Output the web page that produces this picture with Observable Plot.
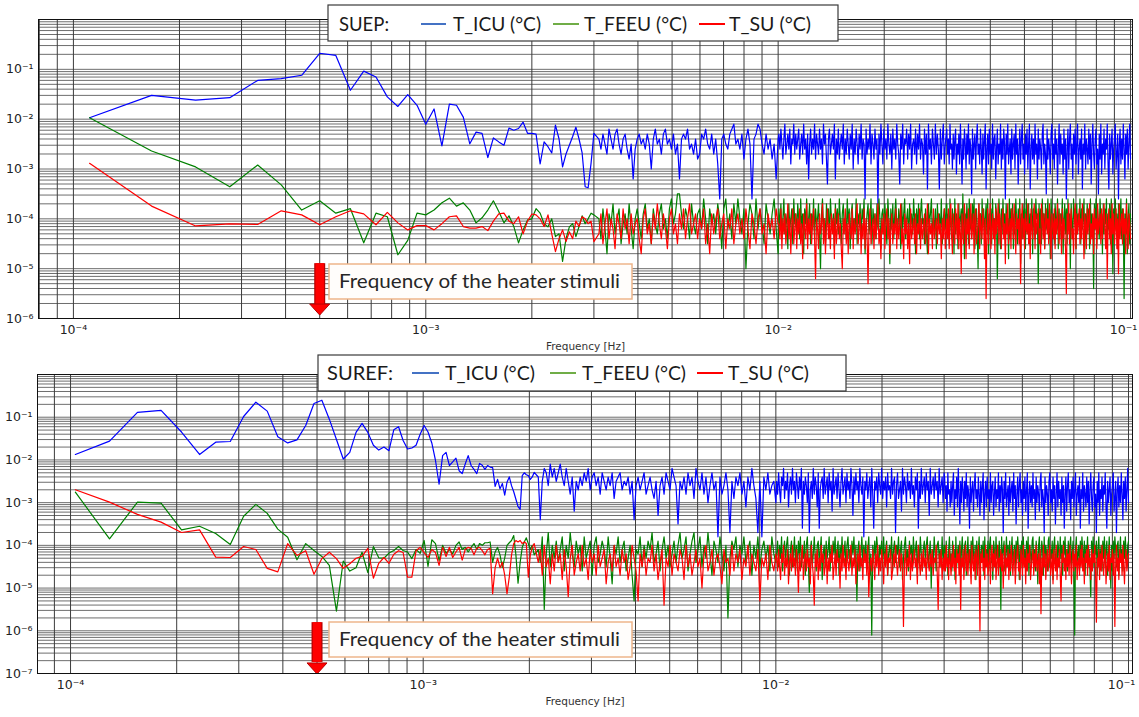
<!DOCTYPE html>
<html><head><meta charset="utf-8">
<script src="https://cdn.jsdelivr.net/npm/d3@7"></script>
<script src="https://cdn.jsdelivr.net/npm/@observablehq/plot@0.6"></script>
<style>
html,body{margin:0;padding:0;background:#fff;}
#wrap{position:relative;width:1139px;height:717px;overflow:hidden;background:#fff;}
#top,#bottom{position:absolute;left:0;}
#top{top:0;} #bottom{top:355px;}
#overlay{position:absolute;left:0;top:0;pointer-events:none;}
</style></head>
<body><div id="wrap"><div id="top"></div><div id="bottom"></div><svg id="overlay" width="1139" height="717"></svg></div>
<script>
// ---------- labels ----------
const seriesNames = ["T_ICU (°C)", "T_FEEU (°C)", "T_SU (°C)"];
const panelNames = ["SUEP:", "SUREF:"];
const xTitle = "Frequency [Hz]";
const annotationText = "Frequency of the heater stimuli";
const xTickValues = [1e-4, 1e-3, 1e-2];
const xLastTick = [1e-1];
const suepYTicks = [1e-1, 1e-2, 1e-3, 1e-4, 1e-5, 1e-6];
const surefYTicks = [1e-1, 1e-2, 1e-3, 1e-4, 1e-5, 1e-6, 1e-7];
const heaterStimulusHz = 5e-4;
// frequency segments of the dense part: [mid start] .. 0.01 | 0.01 .. 0.03 | 0.03 .. 0.1 Hz
const midEndHz = 0.01, bandStartHz = 0.01005, bandEndHz = 0.03, highStartHz = 0.0301, endHz = 0.1;

// ---------- SUEP (top): FFT bins n = 2..54, then dense segments (values as 10*log10) ----------
const suepBinHz = 1 / 18000;
const suepFirstBin = 2;
const suepMidStartHz = 3.1e-3;
const suepIcuLow = [1.07e-2,3.0e-2,2.4e-2,2.7e-2,6.0e-2,6.5e-2,7.6e-2,0.21,0.19,3.8e-2,9.2e-2,7.0e-2,2.8e-2,1.8e-2,3.1e-2,1.9e-2,
 7.9e-3,1.6e-2,2.9e-3,2.0e-2,1.9e-2,1.1e-2,3.2e-3,5.5e-3,5.2e-3,1.7e-3,4.2e-3,3.5e-3,3.0e-3,6.6e-3,6.0e-3,6.5e-3,8.7e-3,5.2e-3,5.2e-3,5.0e-3,1.26e-3,3.5e-3,2.8e-3,2.1e-3,7.6e-3,4.0e-3,1.1e-3,2.0e-3,3.0e-3,4.5e-3,6.9e-3,4.0e-3,2.1e-3,4.4e-4,4.2e-4,1.3e-3,5.2e-3];
const suepFeeuLow = [1.07e-2,2.3e-3,1.1e-3,4.4e-4,1.2e-3,4.8e-4,1.5e-4,2.3e-4,1.3e-4,1.6e-4,3.3e-5,1.3e-4,1.1e-4,1.9e-5,3.7e-5,1.3e-4,
 1.2e-4,1.5e-4,2.1e-4,2.6e-4,1.8e-4,2.1e-4,1.5e-4,8.3e-5,1.05e-4,1.5e-4,2.3e-4,1.4e-4,8.3e-5,1.15e-4,7e-5,3.3e-5,6e-5,9.5e-5,1.0e-4,1.6e-4,1.3e-4,8e-5,6.9e-5,1e-4,4.4e-5,5e-5,1.4e-5,4e-5,6.9e-5,8e-5,4.4e-5,7e-5,1.15e-4,8e-5,1.0e-4,1.3e-4,1.2e-4];
const suepSuLow = [1.3e-3,1.8e-4,7.2e-5,7.9e-5,7.7e-5,1.45e-4,1.2e-4,7.6e-5,1.1e-4,1.45e-4,1.26e-4,7.6e-5,1.35e-4,8.3e-5,6e-5,7.3e-5,
 7.3e-5,6e-5,8e-5,1.1e-4,1.15e-4,7e-5,6.5e-5,6.5e-5,7e-5,5.8e-5,9e-5,1.26e-4,1.3e-4,9e-5,8e-5,1.1e-4,5e-5,9e-5,1.25e-4,1.2e-4,1.0e-4,7e-5,1.2e-4,5e-5,2.2e-5,4e-5,6e-5,3.5e-5,5.5e-5,4e-5,9e-5,7e-5,1.1e-4,1e-4,8e-5,9e-5,3.5e-5];
const suepIcuMid = [
-24,-26,-23,-25,-27,-22,-24,-26,-23,-22, -25,-27,-24,-23,-26,-28,-25,-32,-26,-24,
-23,-25,-24,-26,-23,-25,-30,-24,-22,-25, -24,-27,-23,-22,-25,-24,-26,-23,-27,-25,
-32,-24,-23,-24,-22,-26,-25,-27,-24,-28, -27,-23,-24,-22,-25,-26,-23,-27,-24,-29,
-36,-24,-23,-25,-26,-23,-22,-21,-25,-24, -26,-23,-28,-24,-22,-25,-36,-24,-23,-21,
-22,-25,-27,-23,-26,-24,-28,-25,-32,-24];
const suepFeeuMid = [
-40,-44,-38,-42,-47,-39,-41,-37,-43,-40, -38,-45,-41,-39,-43,-37,-42,-46,-40,-38,
-41,-44,-39,-37,-42,-40,-45,-38,-41,-43, -39,-37,-42,-40,-44,-38,-36,-41,-39,-35,
-35,-39,-42,-38,-40,-44,-37,-41,-43,-39, -38,-42,-36,-40,-45,-38,-41,-39,-43,-37,
-40,-46,-38,-36,-42,-39,-44,-37,-41,-36, -40,-43,-38,-50,-41,-37,-39,-44,-36,-42,
-38,-41,-45,-37,-40,-43,-39,-36,-42,-47];
const suepSuMid = [
-43,-39,-45,-41,-38,-44,-40,-42,-46,-39, -41,-44,-38,-42,-40,-45,-39,-43,-41,-40,
-44,-47,-40,-38,-43,-41,-45,-39,-42,-37, -41,-44,-39,-42,-46,-40,-38,-43,-41,-45,
-39,-42,-38,-44,-40,-37,-43,-41,-39,-44, -40,-42,-38,-45,-41,-47,-39,-43,-40,-38,
-44,-41,-39,-46,-40,-42,-38,-45,-41,-39, -43,-40,-44,-38,-42,-46,-39,-41,-45,-40,
-38,-43,-41,-47,-39,-42,-40,-44,-38,-41];
const suepIcuBand = [
-23,-26,-22,-25,-28,-24,-21,-27,-25,-23, -26,-22,-29,-24,-25,-21,-27,-23,-26,-24,
-22,-28,-25,-23,-27,-21,-26,-24,-29,-23, -32,-25,-22,-27,-24,-26,-21,-28,-23,-25,
-27,-22,-26,-24,-29,-21,-25,-23,-28,-33, -24,-22,-27,-25,-23,-26,-21,-32,-24,-27,
-22,-28,-25,-23,-26,-21,-29,-24,-27,-22, -25,-28,-23,-26,-21,-30,-24,-27,-22,-25,
-29,-23,-26,-21,-28,-24,-25,-36,-22,-27, -24,-26,-21,-29,-23,-25,-28,-22,-26,-24,
-37,-23,-27,-21,-25,-29,-22,-26,-24,-28, -21,-25,-27,-23,-30,-22,-26,-24,-28,-21,
-25,-27,-33,-23,-26,-21,-29,-24,-25,-22, -28,-23,-26,-21,-30,-25,-24,-27,-22,-29,
-23,-26,-21,-28,-24,-25,-31,-22,-27,-23, -34,-21,-26,-24,-29,-22,-25,-28,-21,-27,
-23,-26,-34,-22,-28,-24,-21,-29,-25,-23];
const suepFeeuBand = [
-38,-42,-37,-44,-40,-36,-43,-39,-41,-46, -37,-42,-40,-38,-45,-36,-41,-39,-43,-37,
-40,-44,-36,-42,-39,-47,-38,-41,-36,-43, -40,-37,-45,-39,-42,-36,-44,-38,-41,-40,
-37,-43,-50,-39,-36,-42,-40,-45,-37,-41, -38,-44,-36,-40,-42,-39,-46,-37,-41,-38,
-43,-36,-40,-45,-39,-37,-42,-40,-44,-36, -41,-38,-46,-39,-37,-43,-40,-42,-36,-45,
-39,-41,-37,-44,-38,-40,-36,-47,-42,-39, -37,-43,-40,-36,-45,-38,-41,-39,-44,-37,
-42,-36,-40,-46,-39,-38,-43,-37,-41,-45, -36,-40,-49,-38,-42,-37,-44,-39,-36,-41,
-43,-38,-40,-46,-37,-42,-39,-36,-44,-40, -38,-45,-37,-41,-39,-43,-36,-40,-47,-38,
-42,-37,-44,-39,-36,-41,-40,-45,-38,-43, -47,-37,-41,-39,-36,-44,-40,-42,-38,-46,
-37,-41,-39,-43,-36,-45,-40,-38,-42,-37];
const suepSuBand = [
-41,-44,-38,-46,-40,-43,-39,-45,-42,-37, -44,-40,-47,-41,-38,-45,-42,-39,-46,-40,
-43,-38,-45,-41,-48,-39,-42,-44,-37,-46, -40,-43,-39,-45,-41,-38,-44,-52,-40,-42,
-46,-39,-43,-41,-37,-45,-40,-47,-42,-38, -44,-41,-46,-39,-43,-40,-48,-38,-45,-42,
-39,-44,-41,-46,-50,-40,-43,-38,-45,-41, -47,-39,-42,-44,-38,-46,-40,-43,-41,-37,
-45,-42,-39,-47,-41,-44,-38,-46,-40,-43, -53,-41,-38,-45,-42,-40,-46,-39,-44,-41,
-37,-45,-42,-48,-40,-43,-39,-46,-41,-38, -44,-40,-47,-42,-39,-45,-41,-43,-38,-46,
-40,-44,-41,-37,-45,-42,-48,-39,-43,-40, -46,-41,-49,-38,-44,-42,-40,-45,-39,-47,
-41,-43,-38,-46,-40,-44,-42,-39,-45,-41, -37,-47,-40,-43,-41,-46,-38,-44,-42,-40,
-45,-39,-43,-41,-48,-40,-44,-38,-46,-42];
const suepIcuHigh = [
-22,-27,-24,-29,-21,-26,-25,-30,-23,-28, -24,-22,-31,-25,-27,-23,-29,-21,-26,-33,
-24,-28,-22,-25,-30,-23,-27,-21,-29,-24, -26,-35,-22,-28,-25,-23,-30,-24,-21,-27,
-25,-29,-22,-26,-31,-23,-28,-24,-21,-34, -26,-23,-29,-22,-27,-25,-30,-21,-28,-24,
-23,-32,-26,-22,-29,-25,-27,-21,-30,-24, -28,-22,-25,-36,-23,-27,-21,-29,-26,-24,
-31,-22,-28,-25,-23,-30,-21,-27,-24,-33, -26,-22,-29,-24,-21,-28,-25,-31,-23,-27,
-22,-30,-25,-21,-34,-26,-23,-28,-24,-29, -21,-27,-25,-32,-22,-28,-24,-26,-30,-23,
-21,-29,-25,-27,-35,-22,-28,-24,-26,-31, -23,-21,-28,-25,-30,-22,-27,-24,-33,-26,
-21,-29,-23,-27,-25,-31,-22,-28,-24,-36, -26,-22,-30,-24,-21,-28,-25,-32,-23,-27,
-22,-29,-25,-21,-31,-26,-24,-28,-22,-34, -25,-27,-21,-30,-24,-26,-29,-22,-28,-23,
-33,-25,-21,-27,-30,-24,-22,-29,-26,-35, -23,-28,-21,-31,-25,-27,-22,-30,-24,-26,
-21,-29,-34,-23,-28,-25,-22,-31,-26,-24, -21,-30,-27,-23,-36,-25,-22,-29,-24,-28,
-21,-26,-32,-23,-27,-22,-30,-25,-21,-28];
const suepFeeuHigh = [
-37,-42,-39,-45,-36,-41,-44,-38,-40,-47, -36,-43,-39,-41,-46,-37,-42,-40,-38,-44,
-35,-41,-48,-39,-43,-37,-40,-45,-36,-42, -39,-44,-37,-41,-36,-46,-40,-38,-43,-50,
-37,-42,-39,-45,-36,-41,-38,-44,-40,-37, -43,-36,-47,-39,-42,-38,-45,-36,-41,-40,
-44,-37,-39,-52,-42,-36,-40,-46,-38,-43, -36,-41,-39,-45,-37,-42,-40,-48,-36,-44,
-38,-41,-37,-46,-39,-43,-36,-40,-45,-38, -42,-36,-49,-39,-44,-37,-41,-38,-46,-36,
-40,-43,-37,-45,-39,-42,-36,-47,-38,-41, -44,-36,-40,-39,-53,-37,-43,-38,-45,-36,
-41,-39,-46,-37,-42,-40,-36,-44,-38,-48, -36,-41,-43,-39,-45,-37,-40,-42,-36,-46,
-38,-44,-39,-41,-36,-47,-40,-37,-43,-38, -45,-36,-42,-39,-50,-37,-41,-44,-36,-40,
-38,-46,-37,-43,-39,-41,-36,-45,-38,-42, -40,-36,-47,-39,-44,-37,-41,-38,-46,-36,
-43,-39,-40,-54,-37,-42,-36,-45,-38,-41, -44,-36,-40,-39,-47,-37,-43,-38,-41,-36,
-46,-39,-42,-37,-45,-36,-40,-51,-38,-43, -36,-41,-39,-46,-37,-42,-40,-36,-44,-38,
-41,-56,-39,-43,-36,-47,-40,-37,-45,-39];
const suepSuHigh = [
-40,-44,-38,-46,-41,-37,-43,-47,-39,-42, -45,-38,-41,-44,-37,-46,-40,-43,-51,-39,
-42,-45,-37,-41,-48,-40,-43,-38,-46,-41, -37,-44,-42,-39,-47,-40,-38,-45,-43,-41,
-37,-46,-39,-42,-44,-38,-41,-48,-40,-56, -43,-38,-45,-41,-37,-46,-42,-39,-44,-40,
-47,-38,-43,-41,-37,-45,-39,-42,-46,-40, -38,-44,-41,-49,-39,-43,-37,-45,-42,-40,
-46,-38,-41,-44,-37,-43,-47,-39,-42,-40, -45,-38,-53,-41,-37,-44,-40,-46,-39,-42,
-43,-37,-45,-41,-48,-38,-42,-44,-40,-37, -46,-39,-43,-41,-38,-45,-42,-47,-37,-40,
-44,-39,-46,-41,-38,-43,-40,-45,-37,-42, -48,-39,-41,-44,-38,-46,-40,-43,-37,-42,
-45,-39,-41,-47,-38,-44,-40,-42,-46,-55, -39,-43,-37,-45,-41,-38,-44,-42,-47,-40,
-37,-46,-39,-43,-41,-38,-45,-40,-44,-37, -42,-48,-39,-41,-46,-38,-43,-40,-37,-45,
-41,-44,-39,-47,-38,-42,-40,-46,-37,-43, -41,-39,-45,-38,-44,-40,-37,-42,-46,-39,
-52,-41,-38,-44,-40,-47,-37,-43,-39,-45, -42,-38,-46,-40,-51,-37,-44,-41,-39,-45,
-38,-43,-40,-47,-37,-42,-46,-39,-41,-44];

// ---------- SUREF (bottom): FFT bins n = 4..80, then dense segments ----------
const surefBinHz = 2.58e-5;
const surefFirstBin = 4;
const surefMidStartHz = 2.12e-3;
const surefIcuLow = [1.34e-2,2.75e-2,0.13,0.144,4.5e-2,1.34e-2,2.6e-2,2.7e-2,0.104,0.225,0.139,3.5e-2,2.5e-2,2.95e-2,6.4e-2,0.21,0.25,
 9e-2,3e-2,1.05e-2,1.5e-2,4.4e-2,7.2e-2,4.4e-2,2.2e-2,1.7e-2,2e-2,1.65e-2,5.1e-2,6e-2,2.85e-2,1.8e-2,1.9e-2,2.2e-2,4e-2,6.4e-2,4.5e-2,
 2.5e-2,9.7e-3,2.7e-3,1.26e-2,1.5e-2,7.4e-3,9e-3,1.1e-2,5.6e-3,4.8e-3,8e-3,1.26e-2,7.4e-3,6e-3,4.8e-3,8.3e-3,7.5e-3,6e-3,7.4e-3,6.8e-3,
 6.6e-3,2.4e-3,3.5e-3,2.1e-3,2.8e-3,1.5e-3,3e-3,4e-3,2.5e-3,1.8e-3,1.2e-3,8.1e-4,7e-4,4.3e-3,5e-3,4.5e-3,4.3e-3,3.5e-3,4e-3,5.1e-3];
const surefFeeuLow = [1.76e-3,1.42e-4,1.03e-3,9.7e-4,2.3e-4,2.8e-4,1.9e-4,1.05e-4,4.8e-4,9.1e-4,5.6e-4,2.4e-4,1.55e-4,4.6e-5,1.1e-4,7.6e-5,5.5e-5,
 3.4e-5,2.9e-6,4.3e-5,2.5e-5,3e-5,6.9e-5,2.3e-5,9.4e-5,5.1e-5,5e-5,6.6e-5,7.6e-5,9.4e-5,7.6e-5,7e-5,4.9e-5,8e-5,6.5e-5,1.3e-4,3.2e-5,
 1.35e-4,1.1e-4,4.4e-5,1.0e-4,6.5e-5,8e-5,6.3e-5,1.0e-4,1.2e-4,8e-5,9e-5,7e-5,9e-5,1.1e-4,8e-5,1.1e-4,1.0e-4,1.15e-4,1.15e-4,1.2e-4,
 4e-5,7e-5,9e-5,6e-5,3e-5,5e-5,1.0e-4,1.15e-4,1.3e-4,1.7e-4,6e-5,1.3e-5,4e-5,9e-5,1.2e-4,1.5e-4,1.1e-4,8e-5,1.0e-4,6e-5];
const surefSuLow = [2e-3,1.03e-3,5.3e-4,3.5e-4,2e-4,2.3e-4,5.3e-5,5.2e-5,9.4e-5,8e-5,2.9e-5,2.4e-5,1.1e-4,5.8e-5,7.5e-5,2.1e-5,4.9e-5,
 6.9e-5,4.9e-5,2.9e-5,3.7e-5,5e-5,5.5e-5,8.5e-5,1.7e-5,3.8e-5,5.2e-5,3.8e-5,6.2e-5,7.5e-5,6.8e-5,1.8e-5,1.8e-5,7.5e-5,9e-5,6.8e-5,5.2e-5,
 8e-5,6.8e-5,3.4e-5,9e-5,5.5e-5,9e-5,5.2e-5,7e-5,9e-5,4.5e-5,8e-5,9e-5,8.5e-5,6e-5,8.5e-5,9e-5,7.5e-5,6e-5,8e-5,8.5e-5,
 7.4e-6,3e-5,5e-5,3e-5,4e-5,2e-5,7.4e-6,1.8e-5,6e-5,1.1e-4,1.3e-4,1.2e-4,1.3e-4,1.1e-4,1.2e-4,1.1e-4,1.8e-5,6e-5,9e-5,1.1e-4];
const surefIcuMid = [
-24,-34,-25,-22,-23,-26,-21,-24,-22,-25, -23,-21,-24,-26,-22,-25,-28,-24,-32,-25,
-27,-24,-26,-23,-25,-22,-27,-24,-23,-26, -24,-28,-23,-25,-27,-24,-26,-23,-29,-25,
-24,-23,-27,-25,-26,-24,-28,-25,-34,-26, -24,-27,-25,-23,-28,-26,-24,-27,-29,-25,
-33,-26,-24,-28,-23,-25,-27,-22,-24,-26, -35,-25,-27,-24,-28,-23,-26,-24,-29,-22,
-25,-27,-23,-28,-24,-30,-26,-23,-27,-25, -38,-24,-28,-26,-23,-27,-37,-25,-29,-24,
-26,-23,-28,-25,-31,-24,-27,-22,-26,-29, -37,-25,-38,-24,-27,-23,-28,-26,-25,-30];
const surefFeeuMid = [
-41,-44,-38,-55,-42,-37,-45,-40,-43,-39, -44,-41,-38,-46,-40,-43,-37,-42,-45,-39,
-42,-40,-46,-38,-43,-41,-39,-47,-40,-38, -44,-42,-39,-41,-45,-38,-43,-49,-40,-42,
-38,-44,-41,-39,-46,-43,-40,-47,-53,-41, -42,-38,-45,-40,-43,-39,-41,-37,-44,-42,
-39,-46,-41,-38,-43,-40,-45,-42,-39,-44, -40,-37,-43,-41,-38,-46,-42,-39,-37,-44,
-41,-38,-45,-40,-43,-37,-42,-47,-39,-41, -44,-38,-42,-46,-40,-57,-43,-39,-41,-38,
-45,-40,-42,-38,-44,-41,-39,-47,-40,-43, -38,-45,-41,-39,-43,-40,-46,-38,-42,-44];
const surefSuMid = [
-44,-41,-47,-40,-45,-43,-49,-42,-46,-40, -44,-42,-48,-41,-45,-52,-43,-40,-47,-44,
-42,-46,-40,-45,-43,-48,-41,-44,-42,-47, -40,-45,-43,-41,-49,-44,-42,-46,-40,-45,
-43,-47,-41,-44,-42,-48,-45,-40,-43,-46, -53,-42,-45,-41,-47,-43,-44,-40,-46,-42,
-48,-44,-41,-54,-43,-45,-40,-47,-42,-44, -46,-41,-43,-48,-40,-45,-42,-47,-44,-41,
-45,-43,-50,-42,-40,-46,-44,-41,-47,-43, -42,-45,-49,-41,-44,-43,-47,-40,-46,-42,
-44,-41,-48,-43,-45,-40,-47,-42,-44,-46, -41,-53,-43,-45,-42,-48,-40,-44,-46,-42];
const surefIcuBand = [
-25,-28,-23,-27,-30,-24,-26,-22,-29,-25, -27,-23,-31,-26,-24,-28,-22,-27,-25,-30,
-23,-26,-29,-24,-27,-22,-36,-25,-28,-24, -26,-30,-23,-37,-27,-25,-29,-22,-28,-24,
-26,-31,-23,-36,-27,-25,-24,-29,-22,-28, -26,-24,-30,-23,-27,-25,-32,-22,-28,-26,
-24,-29,-23,-27,-31,-25,-22,-28,-26,-24, -30,-23,-27,-25,-29,-22,-26,-33,-24,-28,
-23,-27,-25,-30,-22,-26,-28,-24,-38,-25, -27,-23,-29,-26,-24,-31,-22,-28,-36,-25,
-27,-24,-30,-23,-26,-28,-22,-29,-25,-27, -24,-31,-23,-27,-26,-29,-22,-28,-25,-24,
-37,-26,-23,-29,-27,-25,-32,-22,-28,-24, -26,-30,-23,-27,-25,-29,-22,-28,-26,-31,
-24,-27,-23,-36,-25,-29,-22,-28,-26,-24, -30,-23,-27,-25,-33,-22,-28,-26,-24,-29,
-23,-27,-25,-31,-22,-28,-26,-24,-30,-23];
const surefFeeuBand = [
-42,-39,-45,-40,-43,-38,-46,-41,-39,-44, -40,-38,-43,-47,-41,-39,-45,-42,-38,-44,
-40,-46,-39,-42,-38,-45,-41,-43,-39,-47, -40,-38,-44,-51,-41,-39,-45,-42,-38,-43,
-46,-40,-39,-44,-41,-38,-48,-42,-40,-45, -39,-43,-41,-38,-46,-40,-44,-39,-42,-38,
-45,-41,-39,-47,-40,-43,-38,-44,-42,-39, -46,-40,-38,-43,-41,-45,-39,-42,-38,-44,
-40,-53,-41,-39,-46,-42,-38,-44,-40,-43, -39,-45,-41,-38,-47,-42,-61,-40,-44,-39,
-43,-38,-41,-46,-40,-42,-39,-45,-38,-44, -41,-39,-47,-42,-40,-43,-38,-46,-41,-39,
-44,-40,-42,-38,-45,-41,-39,-48,-43,-40, -38,-44,-41,-46,-39,-42,-40,-45,-38,-43,
-41,-39,-47,-40,-44,-38,-42,-46,-41,-39, -43,-40,-38,-45,-42,-39,-50,-41,-44,-38,
-42,-46,-40,-39,-43,-41,-45,-38,-44,-40];
const surefSuBand = [
-43,-46,-41,-45,-48,-42,-44,-40,-47,-43, -45,-41,-49,-44,-42,-46,-40,-45,-43,-47,
-41,-44,-51,-42,-46,-43,-40,-48,-44,-42, -46,-41,-45,-43,-49,-40,-44,-47,-54,-42,
-45,-41,-48,-43,-46,-40,-44,-42,-47,-45, -41,-49,-43,-46,-42,-44,-40,-48,-45,-42,
-47,-41,-44,-43,-50,-42,-46,-40,-45,-43, -48,-41,-44,-46,-42,-40,-47,-43,-45,-41,
-49,-44,-42,-46,-40,-45,-43,-48,-41,-44, -42,-47,-40,-52,-45,-43,-46,-41,-44,-48,
-42,-45,-40,-47,-43,-46,-41,-44,-49,-42, -45,-40,-47,-43,-44,-41,-48,-46,-42,-45,
-40,-44,-47,-43,-41,-46,-42,-45,-59,-44, -41,-47,-43,-45,-40,-48,-42,-46,-44,-41,
-45,-43,-49,-40,-44,-47,-42,-46,-41,-45, -43,-48,-40,-44,-46,-42,-45,-41,-47,-43,
-44,-40,-46,-55,-42,-45,-41,-48,-43,-46];
const surefIcuHigh = [
-24,-29,-26,-32,-23,-28,-27,-31,-25,-30, -26,-23,-33,-27,-29,-24,-31,-22,-28,-35,
-25,-30,-24,-27,-32,-25,-29,-23,-31,-26, -28,-36,-24,-30,-27,-25,-32,-26,-23,-29,
-27,-31,-24,-28,-33,-25,-30,-26,-23,-34, -28,-25,-31,-24,-29,-27,-32,-23,-30,-26,
-25,-33,-28,-24,-31,-27,-29,-23,-32,-26, -30,-24,-27,-37,-25,-29,-23,-31,-28,-26,
-33,-24,-30,-27,-25,-32,-23,-29,-26,-35, -28,-24,-31,-26,-23,-30,-27,-33,-25,-29,
-24,-32,-27,-23,-36,-28,-25,-30,-26,-31, -23,-29,-27,-34,-24,-30,-26,-28,-32,-25,
-23,-31,-27,-29,-37,-24,-30,-26,-28,-33, -25,-23,-30,-27,-32,-24,-29,-26,-35,-28,
-23,-31,-25,-29,-27,-33,-24,-30,-26,-36, -28,-24,-32,-26,-23,-30,-27,-34,-25,-29,
-24,-31,-27,-23,-33,-28,-26,-30,-24,-36, -27,-29,-23,-32,-26,-28,-31,-24,-30,-25,
-35,-27,-23,-29,-32,-26,-24,-31,-28,-37, -25,-30,-23,-33,-27,-29,-24,-32,-26,-28,
-23,-31,-36,-25,-30,-27,-24,-33,-28,-26, -23,-32,-29,-25,-37,-27,-24,-31,-26,-30,
-23,-28,-34,-25,-29,-24,-32,-27,-22,-30];
const surefFeeuHigh = [
-40,-45,-39,-43,-47,-41,-38,-44,-42,-46, -39,-43,-41,-48,-38,-45,-42,-40,-44,-39,
-46,-41,-38,-43,-45,-40,-39,-47,-42,-38, -44,-41,-46,-39,-43,-38,-42,-45,-40,-48,
-39,-44,-41,-38,-46,-42,-40,-43,-39,-47, -38,-45,-41,-43,-39,-46,-40,-38,-44,-42,
-48,-39,-41,-45,-38,-43,-40,-46,-39,-42, -55,-38,-44,-41,-39,-46,-42,-38,-43,-40,
-45,-39,-47,-41,-38,-44,-42,-40,-46,-39, -43,-38,-41,-48,-40,-45,-39,-42,-38,-44,
-41,-46,-39,-43,-38,-47,-40,-42,-45,-39, -38,-44,-41,-46,-39,-42,-49,-40,-38,-45,
-43,-39,-41,-47,-38,-44,-40,-42,-46,-39, -38,-45,-41,-43,-39,-48,-40,-38,-44,-42,
-46,-39,-41,-45,-38,-43,-40,-47,-39,-42, -38,-44,-41,-46,-39,-43,-40,-38,-45,-42,
-39,-47,-61,-41,-38,-44,-42,-40,-46,-39, -43,-38,-41,-45,-39,-47,-40,-42,-38,-44,
-41,-46,-52,-39,-43,-38,-45,-40,-42,-39, -47,-41,-38,-44,-42,-40,-46,-39,-43,-38,
-45,-41,-39,-47,-42,-38,-44,-50,-40,-46, -39,-43,-38,-41,-45,-40,-39,-47,-42,-38,
-44,-41,-46,-39,-43,-38,-42,-45,-40,-39];
const surefSuHigh = [
-42,-46,-40,-45,-43,-48,-41,-44,-47,-42, -45,-40,-46,-43,-49,-41,-44,-42,-47,-40,
-55,-43,-45,-41,-48,-44,-40,-46,-42,-47, -43,-41,-45,-49,-40,-44,-46,-42,-48,-41,
-43,-47,-40,-45,-60,-42,-44,-41,-46,-43, -48,-40,-45,-42,-47,-44,-41,-49,-43,-40,
-46,-42,-45,-41,-48,-44,-40,-47,-43,-45, -41,-46,-42,-50,-44,-40,-47,-43,-45,-41,
-48,-42,-46,-40,-44,-47,-43,-41,-49,-45, -42,-40,-46,-44,-48,-41,-43,-47,-40,-45,
-43,-49,-41,-46,-42,-44,-40,-48,-45,-43, -41,-47,-42,-45,-40,-46,-44,-42,-49,-41,
-56,-43,-47,-40,-45,-42,-48,-44,-41,-46, -43,-40,-47,-45,-42,-49,-41,-44,-46,-40,
-48,-43,-45,-41,-47,-53,-42,-44,-40,-46, -43,-48,-41,-45,-42,-47,-40,-44,-49,-43,
-41,-46,-42,-45,-40,-48,-44,-43,-47,-41, -45,-40,-46,-43,-49,-42,-44,-41,-47,-40,
-45,-43,-48,-41,-46,-42,-44,-40,-47,-58, -43,-45,-41,-48,-42,-46,-40,-44,-47,-43,
-41,-49,-45,-42,-46,-40,-48,-43,-44,-41, -47,-42,-59,-45,-40,-46,-43,-48,-41,-44,
-42,-47,-40,-45,-49,-43,-41,-46,-44,-42];

// ---------- styling ----------
const lineColors = ["#0000ff", "#008000", "#ff0000"];
const legendColors = ["#4472c4", "#70ad47", "#ff0000"];

// ---------- helpers ----------
function logSpacedSegment(startHz, stopHz, exp10) {
  const n = exp10.length, r = Math.log(stopHz / startHz);
  return exp10.map((e, i) => ({f: startHz * Math.exp(r * i / (n - 1)), v: Math.pow(10, e / 10)}));
}
function buildSeries(binHz, firstBin, low, midStartHz, mid, band, high) {
  return [
    ...low.map((v, i) => ({f: (firstBin + i) * binHz, v})),
    ...logSpacedSegment(midStartHz, midEndHz, mid),
    ...logSpacedSegment(bandStartHz, bandEndHz, band),
    ...logSpacedSegment(highStartHz, endHz, high)
  ];
}
const supMap = {"-": "\u207B", "0": "\u2070", "1": "\u00B9", "2": "\u00B2", "3": "\u00B3", "4": "\u2074", "5": "\u2075", "6": "\u2076", "7": "\u2077", "8": "\u2078", "9": "\u2079"};
const powFmt = d => "10" + String(Math.round(Math.log10(d))).split("").map(c => supMap[c]).join("");
function logGrid(lo, hi) {
  const out = [];
  for (let e = Math.floor(Math.log10(lo)); e <= Math.ceil(Math.log10(hi)); e++)
    for (let k = 1; k < 10; k++) { const v = k * Math.pow(10, e); if (v >= lo && v <= hi) out.push(v); }
  return out;
}
const headSymbol = {draw(ctx) { ctx.moveTo(-10, -5); ctx.lineTo(10, -5); ctx.lineTo(0, 6); ctx.closePath(); }};

function panel(cfg) {
  return Plot.plot({
    width: 1139, height: cfg.height,
    marginTop: cfg.marginTop, marginBottom: cfg.marginBottom, marginLeft: cfg.marginLeft, marginRight: 7,
    x: {type: "log", domain: cfg.xDomain},
    y: {type: "log", domain: cfg.yDomain},
    style: {fontFamily: "'DejaVu Sans', sans-serif", fontSize: "12.5px", color: "#222", background: "white"},
    marks: [
      Plot.ruleY(logGrid(cfg.yDomain[0], cfg.yDomain[1]), {stroke: "#6e6e6e", strokeWidth: 1}),
      Plot.ruleX(logGrid(cfg.xDomain[0], cfg.xDomain[1]), {stroke: "#3c3c3c", strokeWidth: 1}),
      ...cfg.series.map((s, i) => Plot.line(s, {x: "f", y: "v", stroke: lineColors[i], strokeWidth: 1.2})),
      Plot.ruleX([cfg.arrow], {x: "f", y1: "y1", y2: "y2", stroke: "#b80000", strokeWidth: 11, strokeLinecap: "butt"}),
      Plot.ruleX([cfg.arrow], {x: "f", y1: "y1", y2: "y2", stroke: "#ff0000", strokeWidth: 8.5, strokeLinecap: "butt"}),
      Plot.dot([cfg.arrow], {x: "f", y: "head", symbol: headSymbol, r: 10, fill: "#ff0000", stroke: "#b80000", strokeWidth: 1}),
      Plot.frame({stroke: "#111"}),
      Plot.axisX(xTickValues, {tickFormat: powFmt, tickSize: 0, tickPadding: 7, label: null}),
      Plot.axisX(xLastTick, {tickFormat: powFmt, tickSize: 0, tickPadding: 7, label: null, dx: -7}),
      Plot.axisY(cfg.yTicks, {tickFormat: powFmt, tickSize: 0, tickPadding: 5, label: null}),
      Plot.text([xTitle], {frameAnchor: "bottom", dy: 31, fontSize: 10.5, fill: "#333", text: d => d})
    ]
  });
}

const topSeries = [
  buildSeries(suepBinHz, suepFirstBin, suepIcuLow, suepMidStartHz, suepIcuMid, suepIcuBand, suepIcuHigh),
  buildSeries(suepBinHz, suepFirstBin, suepFeeuLow, suepMidStartHz, suepFeeuMid, suepFeeuBand, suepFeeuHigh),
  buildSeries(suepBinHz, suepFirstBin, suepSuLow, suepMidStartHz, suepSuMid, suepSuBand, suepSuHigh)
];
const bottomSeries = [
  buildSeries(surefBinHz, surefFirstBin, surefIcuLow, surefMidStartHz, surefIcuMid, surefIcuBand, surefIcuHigh),
  buildSeries(surefBinHz, surefFirstBin, surefFeeuLow, surefMidStartHz, surefFeeuMid, surefFeeuBand, surefFeeuHigh),
  buildSeries(surefBinHz, surefFirstBin, surefSuLow, surefMidStartHz, surefSuMid, surefSuBand, surefSuHigh)
];

document.getElementById("top").append(panel({
  height: 355, marginTop: 19, marginBottom: 37, marginLeft: 38,
  xDomain: [7.96e-5, 0.1013], yDomain: [1e-6, 1], yTicks: suepYTicks, series: topSeries,
  arrow: {f: heaterStimulusHz, y1: Math.pow(10, -4.9), y2: Math.pow(10, -5.72), head: Math.pow(10, -5.81)}
}));
document.getElementById("bottom").append(panel({
  height: 362, marginTop: 19, marginBottom: 44, marginLeft: 37,
  xDomain: [8.06e-5, 0.10264], yDomain: [1e-7, 1], yTicks: surefYTicks, series: bottomSeries,
  arrow: {f: heaterStimulusHz, y1: Math.pow(10, -5.81), y2: Math.pow(10, -6.74), head: Math.pow(10, -6.87)}
}));

// ---------- overlay: legends and annotation boxes ----------
const ov = d3.select("#overlay");
const legendFont = "Lato, 'Open Sans', sans-serif";
function legend(b) {
  ov.append("rect").attr("x", b.x0).attr("y", b.y0).attr("width", b.x1 - b.x0).attr("height", b.y1 - b.y0)
    .attr("fill", "#fff").attr("stroke", "#3a3a3a").attr("stroke-width", 1.2);
  ov.append("text").attr("x", b.title[0]).attr("y", b.base).attr("textLength", b.title[1]).attr("lengthAdjust", "spacingAndGlyphs")
    .attr("font-family", legendFont).attr("font-size", 20).attr("fill", "#1a1a1a").text(b.name);
  seriesNames.forEach((s, i) => {
    const it = b.items[i];
    ov.append("line").attr("x1", it[0]).attr("x2", it[1]).attr("y1", b.base - 7).attr("y2", b.base - 7)
      .attr("stroke", legendColors[i]).attr("stroke-width", 2);
    ov.append("text").attr("x", it[2]).attr("y", b.base).attr("textLength", it[3]).attr("lengthAdjust", "spacingAndGlyphs")
      .attr("font-family", legendFont).attr("font-size", 20).attr("fill", "#1a1a1a").text(s);
  });
}
legend({name: panelNames[0], x0: 328, x1: 838, y0: 5, y1: 41, base: 31, title: [339, 50],
  items: [[421, 446, 453, 88], [553, 579, 584, 103], [699, 725, 729, 82]]});
legend({name: panelNames[1], x0: 318, x1: 846, y0: 355, y1: 391, base: 380, title: [327, 66],
  items: [[412, 439, 445, 90], [550, 576, 582, 104], [697, 723, 728, 81]]});

function note(y0) {
  ov.append("rect").attr("x", 329).attr("y", y0).attr("width", 303).attr("height", 35)
    .attr("fill", "#fffdfb").attr("stroke", "#eeb58a").attr("stroke-width", 1.5);
  ov.append("text").attr("x", 339).attr("y", y0 + 24).attr("textLength", 281).attr("lengthAdjust", "spacingAndGlyphs")
    .attr("font-family", legendFont).attr("font-size", 19.5).attr("fill", "#262626").text(annotationText);
}
note(264);
note(622);
</script>
</body></html>
